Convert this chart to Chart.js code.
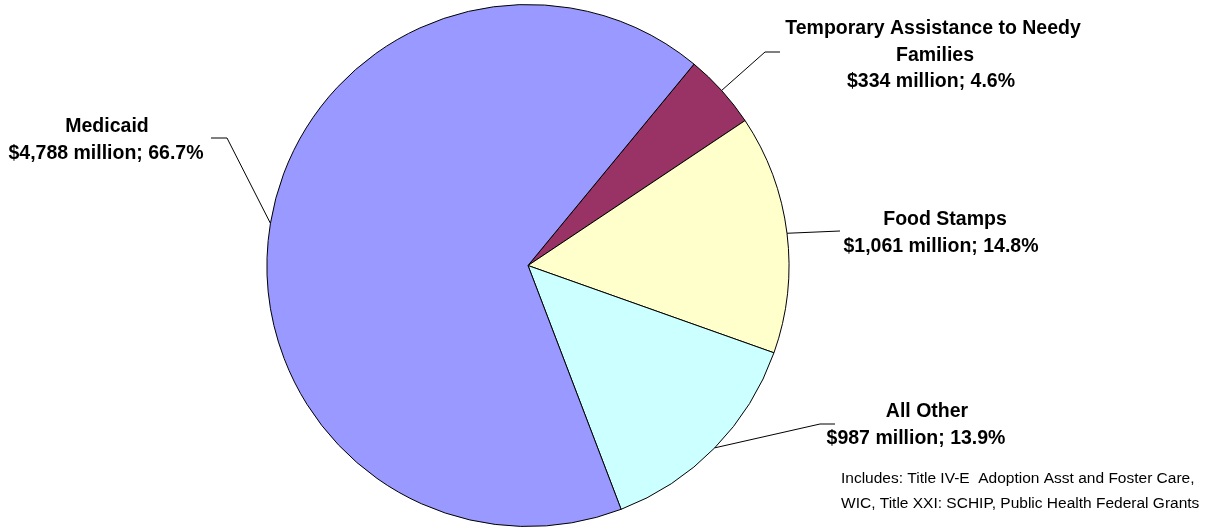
<!DOCTYPE html>
<html lang="en">
<head>
    <meta charset="UTF-8">
    <title>Federal Grants</title>
    <style>
        html, body { margin: 0; padding: 0; background: #fff; }
        #wrap { width: 1226px; height: 527px; }
    </style>
</head>
<body>
    <div id="wrap">
        <canvas id="myChart" width="1226" height="527"></canvas>
    </div>

    <script src="https://cdn.jsdelivr.net/npm/chart.js"></script>
    <script>
        // slices, clockwise starting just right of 12 o'clock
        var categories = ['Temporary Assistance to Needy Families', 'Food Stamps', 'All Other', 'Medicaid'];
        var amounts = [334, 1061, 987, 4788];           // $ millions
        var percents = ['4.6%', '14.8%', '13.9%', '66.7%'];
        var amountLabels = ['$334 million', '$1,061 million', '$987 million', '$4,788 million'];
        var sliceColors = ['#993366', '#FFFFCC', '#CCFFFF', '#9999FF'];
        var noteLines = ['Includes: Title IV-E  Adoption Asst and Foster Care,',
                         'WIC, Title XXI: SCHIP, Public Health Federal Grants'];

        // where each label's text and leader line elbow sit
        var labelLayout = [
            { lines: ['Temporary Assistance to Needy', 'Families'], cx: [933, 935, 931], y: 34, elbow: [765, 52], end: [780, 52] },
            { lines: ['Food Stamps'], cx: [945, 941], y: 225, elbow: null, end: [840, 231] },
            { lines: ['All Other'], cx: [927, 916], y: 417, elbow: [820, 424], end: [835, 424] },
            { lines: ['Medicaid'], cx: [107, 106], y: 132, elbow: [227, 138], end: [211, 138] }
        ];

        var labelPlugin = {
            id: 'pieLabels',
            afterDraw: function(chart) {
                var ctx = chart.ctx;
                var arcs = chart.getDatasetMeta(0).data;
                ctx.save();
                ctx.strokeStyle = '#000';
                ctx.lineWidth = 1;
                arcs.forEach(function(arc, i) {
                    var p = arc.getProps(['x', 'y', 'startAngle', 'endAngle', 'outerRadius'], true);
                    var mid = (p.startAngle + p.endAngle) / 2;
                    var ax = p.x + Math.cos(mid) * p.outerRadius;
                    var ay = p.y + Math.sin(mid) * p.outerRadius;
                    var lay = labelLayout[i];
                    ctx.beginPath();
                    ctx.moveTo(ax, ay);
                    if (lay.elbow) ctx.lineTo(lay.elbow[0], lay.elbow[1]);
                    ctx.lineTo(lay.end[0], lay.end[1]);
                    ctx.stroke();

                    var lines = lay.lines.concat([amountLabels[i] + '; ' + percents[i]]);
                    ctx.fillStyle = '#000';
                    ctx.font = 'bold 19.5px "Liberation Sans", Arial, sans-serif';
                    ctx.textAlign = 'center';
                    ctx.textBaseline = 'alphabetic';
                    lines.forEach(function(t, k) {
                        ctx.fillText(t, lay.cx[k], lay.y + k * 26.5);
                    });
                });

                ctx.font = '15.5px "Liberation Sans", Arial, sans-serif';
                ctx.textAlign = 'left';
                noteLines.forEach(function(t, k) {
                    ctx.fillText(t, 841, 483 + k * 25);
                });
                ctx.restore();
            }
        };

        var ctx = document.getElementById('myChart');
        var myChart = new Chart(ctx, {
            type: 'pie',
            data: {
                labels: categories,
                datasets: [{
                    data: amounts,
                    backgroundColor: sliceColors,
                    borderColor: '#000',
                    borderWidth: 1
                }]
            },
            options: {
                responsive: false,
                animation: false,
                rotation: 39.5,
                layout: { padding: { left: 266, right: 436, top: 4, bottom: 0 } },
                plugins: {
                    legend: { display: false },
                    tooltip: { enabled: false }
                }
            },
            plugins: [labelPlugin]
        });
    </script>
</body>
</html>
